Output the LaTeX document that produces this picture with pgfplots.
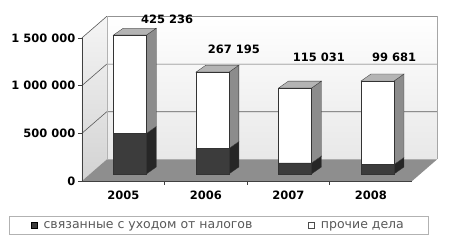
\documentclass[border=0pt]{standalone}
\usepackage{pgfplots}
\pgfplotsset{compat=1.18}
\usepackage{pgfplotstable}
\usepackage{fontspec}
\setmainfont{DejaVu Sans}

\definecolor{darkfront}{HTML}{3C3C3C}
\definecolor{darkside}{HTML}{262626}
\definecolor{lightside}{HTML}{8C8C8C}
\definecolor{topface}{HTML}{B4B4B4}
\definecolor{floorc}{HTML}{8E8E8E}
\definecolor{gridc}{HTML}{5A5A5A}

\pgfplotstableread{
x year dark total
0.08 2005 425236 1455236
1.08 2006 267195 1067195
2.08 2007 115031 900031
3.08 2008 99681 974681
}\data

\begin{document}
\begin{tikzpicture}
\begin{axis}[
  name=ax, at={(0,0)}, anchor=south west,
  scale only axis, width=355pt, height=166pt,
  xmin=-0.5, xmax=3.8, ymin=-80000, ymax=1660000,
  clip=false,
  scaled y ticks=false,
  axis line style={draw=none},
  major tick length=0pt,
  xtick={0,1,2,3}, xticklabels={2005,2006,2007,2008},
  ytick={-73000,427000,927000,1427000},
  yticklabels={0,500 000,1 000 000,1 500 000},
  ticklabel style={font=\bfseries\fontsize{11.5}{12}\selectfont},
  xticklabel style={yshift=-6pt},
  yticklabel style={xshift=-3pt},
  legend columns=2,
  legend cell align=left,
  legend style={at={(0.3845,-0.264)}, anchor=center, draw=gray!60, line width=0.5pt,
    font=\fontsize{12.5}{14}\selectfont, text=black!65, inner xsep=22pt, inner ysep=3pt,
    /tikz/every even column/.append style={column sep=54pt}},
]
% left wall
\addplot[forget plot, draw=none, top color=gray!8, bottom color=gray!35] coordinates {(-0.5,-73000) (-0.5,1427000) (-0.2,1652000) (-0.2,152000)} -- cycle;
% back wall
\addplot[forget plot, draw=none, top color=white, bottom color=gray!18] coordinates {(-0.2,152000) (3.8,152000) (3.8,1652000) (-0.2,1652000)} -- cycle;
% floor
\addplot[forget plot, draw=none, fill=floorc] coordinates {(-0.5,-73000) (3.5,-73000) (3.8,152000) (-0.2,152000)} -- cycle;
% grid lines
\addplot[forget plot, gridc, line width=0.6pt] coordinates {(-0.5,427000) (-0.2,652000) (3.8,652000)};
\addplot[forget plot, gridc, line width=0.6pt] coordinates {(-0.5,927000) (-0.2,1152000) (3.8,1152000)};
\addplot[forget plot, gridc, line width=0.6pt] coordinates {(-0.5,1427000) (-0.2,1652000) (3.8,1652000)};
\addplot[forget plot, gray!60, line width=0.4pt] coordinates {(-0.2,152000) (-0.2,1652000)};
\addplot[forget plot, gray!70, line width=0.5pt] coordinates {(3.8,152000) (3.8,1652000)};
% axes
\addplot[forget plot, black!75, line width=0.7pt] coordinates {(-0.5,1427000) (-0.5,-73000) (3.5,-73000)};
\draw[black!75, line width=0.6pt] (axis cs:-0.55,-73000) -- (axis cs:-0.5,-73000)
  (axis cs:-0.55,427000) -- (axis cs:-0.5,427000)
  (axis cs:-0.55,927000) -- (axis cs:-0.5,927000)
  (axis cs:-0.55,1427000) -- (axis cs:-0.5,1427000)
  (axis cs:0.5,-73000) -- (axis cs:0.5,-113000)
  (axis cs:1.5,-73000) -- (axis cs:1.5,-113000)
  (axis cs:2.5,-73000) -- (axis cs:2.5,-113000);
% bar 2005 faces
\addplot[forget plot, fill=darkside, draw=black!80, line width=0.3pt] coordinates {(0.28,0) (0.40,73000) (0.40,498236) (0.28,425236)} -- cycle;
\addplot[forget plot, fill=lightside, draw=black!80, line width=0.3pt] coordinates {(0.28,425236) (0.40,498236) (0.40,1528236) (0.28,1455236)} -- cycle;
\addplot[forget plot, fill=topface, draw=black!80, line width=0.3pt] coordinates {(-0.12,1455236) (0.28,1455236) (0.40,1528236) (0.00,1528236)} -- cycle;
% bar 2006 faces
\addplot[forget plot, fill=darkside, draw=black!80, line width=0.3pt] coordinates {(1.28,0) (1.40,73000) (1.40,340195) (1.28,267195)} -- cycle;
\addplot[forget plot, fill=lightside, draw=black!80, line width=0.3pt] coordinates {(1.28,267195) (1.40,340195) (1.40,1140195) (1.28,1067195)} -- cycle;
\addplot[forget plot, fill=topface, draw=black!80, line width=0.3pt] coordinates {(0.88,1067195) (1.28,1067195) (1.40,1140195) (1.00,1140195)} -- cycle;
% bar 2007 faces
\addplot[forget plot, fill=darkside, draw=black!80, line width=0.3pt] coordinates {(2.28,0) (2.40,73000) (2.40,188031) (2.28,115031)} -- cycle;
\addplot[forget plot, fill=lightside, draw=black!80, line width=0.3pt] coordinates {(2.28,115031) (2.40,188031) (2.40,973031) (2.28,900031)} -- cycle;
\addplot[forget plot, fill=topface, draw=black!80, line width=0.3pt] coordinates {(1.88,900031) (2.28,900031) (2.40,973031) (2.00,973031)} -- cycle;
% bar 2008 faces
\addplot[forget plot, fill=darkside, draw=black!80, line width=0.3pt] coordinates {(3.28,0) (3.40,73000) (3.40,172681) (3.28,99681)} -- cycle;
\addplot[forget plot, fill=lightside, draw=black!80, line width=0.3pt] coordinates {(3.28,99681) (3.40,172681) (3.40,1047681) (3.28,974681)} -- cycle;
\addplot[forget plot, fill=topface, draw=black!80, line width=0.3pt] coordinates {(2.88,974681) (3.28,974681) (3.40,1047681) (3.00,1047681)} -- cycle;
% front faces
\addplot[forget plot, ybar, bar width=0.4, bar shift=0pt, fill=white, draw=black!80, line width=0.4pt] table[x=x, y=total] {\data};
\addplot[forget plot, ybar, bar width=0.4, bar shift=0pt, fill=darkfront, draw=black!80, line width=0.4pt] table[x=x, y=dark] {\data};
% value labels
\node[font=\bfseries\fontsize{11.5}{12}\selectfont] at (axis cs:0.53,1625000) {425 236};
\node[font=\bfseries\fontsize{11.5}{12}\selectfont] at (axis cs:1.34,1310000) {267 195};
\node[font=\bfseries\fontsize{11.5}{12}\selectfont] at (axis cs:2.37,1220000) {115 031};
\node[font=\bfseries\fontsize{11.5}{12}\selectfont] at (axis cs:3.28,1220000) {99 681};
% legend
\addlegendimage{legend image code/.code={\path (0pt,0pt) (10pt,0pt); \draw[fill=darkfront, draw=black] (0pt,-3pt) rectangle (6pt,3pt);}}
\addlegendentry{связанные с уходом от налогов}
\addlegendimage{legend image code/.code={\path (0pt,0pt) (10pt,0pt); \draw[fill=white, draw=black!70] (0pt,-3pt) rectangle (6pt,3pt);}}
\addlegendentry{прочие дела}
\end{axis}
\pgfresetboundingbox
\path (-82pt,-63.4pt) rectangle (371pt,181.6pt);
\end{tikzpicture}
\end{document}
